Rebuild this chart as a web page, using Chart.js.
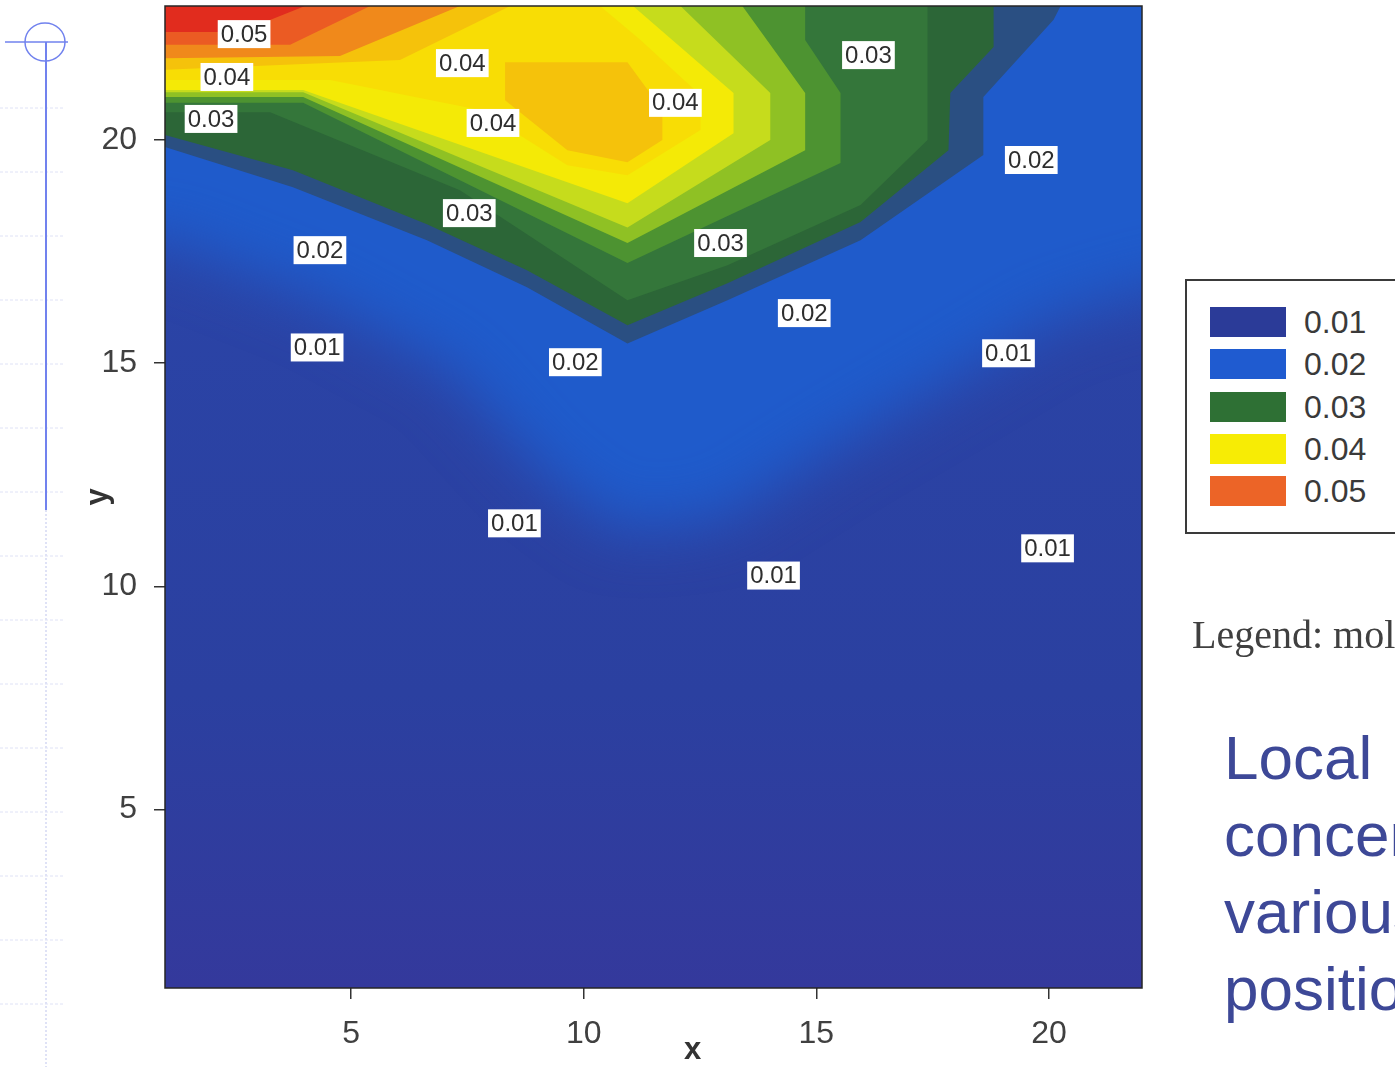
<!DOCTYPE html>
<html>
<head>
<meta charset="utf-8">
<script src="https://cdn.jsdelivr.net/npm/chart.js@4.4.1/dist/chart.umd.min.js"></script>
<style>
html, body { margin: 0; padding: 0; background: #fff; }
#page { position: relative; width: 1395px; height: 1067px; overflow: hidden; background: #fff; }
#deco { position: absolute; left: 0; top: 0; }
#plot { position: absolute; left: 0; top: 0; }
#legendBox { position: absolute; left: 1185px; top: 279px; width: 260px; height: 255px; box-sizing: border-box; border: 2px solid #3a3a3a; background: #fff; }
.item { position: absolute; left: 23px; height: 30px; }
.item span.sw { position: absolute; left: 0; top: 0; width: 76px; height: 30px; }
.item span.tx { position: absolute; left: 94px; top: -3px; font: 32px "Liberation Sans", Arial, sans-serif; color: #3a3a3a; line-height: 36px; white-space: nowrap; }
#units { position: absolute; left: 1192px; top: 615px; font: 40px "Liberation Serif", "Times New Roman", serif; line-height: 40px; color: #404040; white-space: nowrap; }
#caption { position: absolute; left: 1224px; top: 719px; font: 62px "Liberation Sans", Arial, sans-serif; line-height: 77px; color: #3d4897; white-space: nowrap; }
</style>
</head>
<body>
<div id="page">
  <svg id="deco" width="80" height="1067"></svg>
  <canvas id="plot" width="1395" height="1067"></canvas>
  <div id="legendBox"></div>
  <div id="units">Legend: mol</div>
  <div id="caption">Local<br>concentrations<br>various<br>positions</div>
</div>
<script>
// axis ticks
var xTicks = [5, 10, 15, 20];
var yTicks = [5, 10, 15, 20];

// legend of the original figure
var legendLabels = ['0.01', '0.02', '0.03', '0.04', '0.05'];
var legendColors = ['#2b3b98', '#1f5bd0', '#2e7034', '#f7ec05', '#ec6427'];

// bright blue (0.02) zone, drawn soft on top of the navy (0.01) field
var blueZone = [[-1,25],[-1,17.75],[1,17.75],[4.33,16.41],[7.13,14.84],[9.06,12.60],[10.78,11.25],[12.94,11.48],[15.30,13.04],[17.88,14.61],[20.03,15.96],[22,16.6],[24,17.0],[24,25]];

// filled contour bands, lowest first (x 1..22, y 1..23)
var teal        = [[1,23],[1,19.84],[3.75,18.94],[6.63,17.75],[8.78,16.70],[10.94,15.44],[13.09,16.41],[15.95,17.75],[18.59,19.66],[18.59,20.96],[20.10,22.69],[20.25,23]];
var darkGreen   = [[1,23],[1,20.11],[3.75,19.32],[6.63,18.11],[8.78,17.08],[10.94,15.85],[13.09,16.79],[15.95,18.16],[17.84,19.77],[17.88,21.05],[18.81,22.08],[18.81,23]];
var green       = [[1,23],[1,20.62],[3.26,20.62],[7.34,18.87],[10.94,16.41],[13.09,17.19],[15.95,18.54],[17.39,20.0],[17.39,23]];
var midGreen    = [[1,23],[1,20.83],[3.97,20.83],[10.94,17.24],[15.52,19.48],[15.52,21.05],[14.76,22.24],[14.76,23]];
var yellowGreen = [[1,23],[1,20.96],[3.97,20.96],[10.94,17.69],[14.76,19.77],[14.76,21.05],[13.41,23]];
var lightGreen  = [[1,23],[1,21.07],[3.97,21.07],[10.94,18.04],[14.01,20.0],[14.01,21.05],[12.08,23]];
var yellow      = [[1,23],[1,21.12],[3.97,21.12],[10.94,18.58],[13.22,20.15],[13.22,21.05],[11.06,23]];
var gold        = [[1,23],[1,21.34],[4.55,21.34],[7.77,20.67],[9.65,19.43],[10.94,19.21],[12.51,20.22],[12.51,21.0],[11.22,22.24],[10.35,23]];
var amber       = [[1,23],[1,21.57],[6.05,21.79],[8.42,23]];
var amberPeak   = [[8.31,21.74],[10.94,21.74],[11.69,20.67],[11.69,20.0],[10.94,19.50],[9.65,19.77],[8.31,20.89]];
var orange      = [[1,23],[1,21.83],[4.76,21.88],[7.34,23]];
var orangeRed   = [[1,23],[1,22.13],[3.69,22.13],[5.41,23]];
var red         = [[1,23],[1,22.42],[2.61,22.42],[4.01,23]];

var bands      = [teal, darkGreen, green, midGreen, yellowGreen, lightGreen, yellow, gold, amber, amberPeak, orange, orangeRed, red];
var bandColors = ['#2a4f82', '#2c6637', '#34763a', '#4d9331', '#8fc124', '#c6dc1c', '#f4ea06', '#f8dd05', '#f5c20b', '#f5c20b', '#f0891b', '#eb5b23', '#e12c1e'];

// contour labels
var labelText = ['0.05','0.04','0.03','0.04','0.04','0.04','0.03','0.02','0.03','0.03','0.02','0.02','0.01','0.02','0.01','0.01','0.01','0.01'];
var labelX    = [2.70, 2.33, 1.99, 7.39, 8.05, 11.97, 16.12, 19.62, 7.54, 12.94, 4.33, 14.74, 4.27, 9.82, 19.13, 8.51, 19.97, 14.08];
var labelY    = [22.37, 21.41, 20.47, 21.72, 20.38, 20.83, 21.90, 19.55, 18.36, 17.69, 17.53, 16.12, 15.35, 15.02, 15.22, 11.41, 10.85, 10.24];

function pts(a) {
  return a.map(function (p) { return {x: p[0], y: p[1]}; });
}

var datasets = [{
  label: 'blue',
  data: pts(blueZone),
  showLine: false,
  pointRadius: 0,
  order: 100
}];
bands.forEach(function (b, i) {
  datasets.push({
    label: 'band' + i,
    data: pts(b),
    showLine: true,
    fill: 'shape',
    backgroundColor: bandColors[i],
    borderColor: 'rgba(0,0,0,0)',
    borderWidth: 0,
    pointRadius: 0,
    tension: 0,
    order: bands.length - i
  });
});

function noPad(s) {
  s.paddingTop = 0; s.paddingBottom = 0; s.paddingLeft = 0; s.paddingRight = 0;
}

var axisFont = '"Liberation Sans", Arial, sans-serif';

var contourPlugin = {
  id: 'contourPlot',
  beforeDatasetsDraw: function (chart) {
    var ctx = chart.ctx, a = chart.chartArea;
    ctx.save();
    ctx.beginPath();
    ctx.rect(a.left, a.top, a.right - a.left, a.bottom - a.top);
    ctx.clip();
    var g = ctx.createLinearGradient(0, a.top, 0, a.bottom);
    g.addColorStop(0, '#2a46aa');
    g.addColorStop(0.7, '#2b40a0');
    g.addColorStop(1, '#34399c');
    ctx.fillStyle = g;
    ctx.fillRect(a.left, a.top, a.right - a.left, a.bottom - a.top);
    var meta = chart.getDatasetMeta(0);
    ctx.filter = 'blur(30px)';
    ctx.fillStyle = '#1f5bcb';
    ctx.beginPath();
    meta.data.forEach(function (p, i) {
      if (i === 0) ctx.moveTo(p.x, p.y); else ctx.lineTo(p.x, p.y);
    });
    ctx.closePath();
    ctx.fill();
    ctx.restore();
  },
  afterDatasetsDraw: function (chart) {
    var ctx = chart.ctx, a = chart.chartArea;
    var xs = chart.scales.x, ys = chart.scales.y;
    ctx.save();
    ctx.font = '24px ' + axisFont;
    ctx.textAlign = 'center';
    ctx.textBaseline = 'middle';
    labelText.forEach(function (t, i) {
      var px = xs.getPixelForValue(labelX[i]);
      var py = ys.getPixelForValue(labelY[i]);
      var w = ctx.measureText(t).width + 6, h = 28;
      ctx.fillStyle = '#ffffff';
      ctx.fillRect(px - w / 2, py - h / 2, w, h);
      ctx.fillStyle = '#2e2e2e';
      ctx.fillText(t, px, py + 1);
    });
    ctx.strokeStyle = '#262626';
    ctx.lineWidth = 1.5;
    ctx.strokeRect(a.left, a.top, a.right - a.left, a.bottom - a.top);
    // x axis title sits a little right of centre in the original
    ctx.font = 'bold 31px ' + axisFont;
    ctx.fillStyle = '#333';
    ctx.fillText('x', (a.left + a.right) / 2 + 39, 1050);
    ctx.restore();
  }
};

new Chart(document.getElementById('plot'), {
  type: 'scatter',
  data: { datasets: datasets },
  options: {
    responsive: false,
    animation: false,
    events: [],
    layout: { padding: { left: 80, top: 6, right: 253, bottom: 0 } },
    plugins: { legend: { display: false }, tooltip: { enabled: false } },
    scales: {
      x: {
        type: 'linear', position: 'bottom', min: 1, max: 22,
        afterBuildTicks: function (s) { s.ticks = xTicks.map(function (v) { return {value: v}; }); },
        afterFit: function (s) { s.height = 79; noPad(s); },
        grid: { drawOnChartArea: false, drawTicks: true, tickLength: 11, color: '#333', lineWidth: 1.5 },
        border: { display: false },
        ticks: { color: '#404040', padding: 16, maxRotation: 0, font: { family: axisFont, size: 32 } },
        title: { display: false }
      },
      y: {
        type: 'linear', position: 'left', min: 1, max: 23,
        afterBuildTicks: function (s) { s.ticks = yTicks.map(function (v) { return {value: v}; }); },
        afterFit: function (s) { s.width = 85; noPad(s); },
        grid: { drawOnChartArea: false, drawTicks: true, tickLength: 11, color: '#333', lineWidth: 1.5 },
        border: { display: false },
        ticks: { color: '#404040', padding: 17, font: { family: axisFont, size: 32 } },
        title: { display: true, text: 'y', color: '#333', padding: 0, font: { family: axisFont, size: 31, weight: 'bold' } }
      }
    }
  },
  plugins: [contourPlugin]
});

// legend box items
var box = document.getElementById('legendBox');
legendLabels.forEach(function (l, i) {
  var it = document.createElement('div');
  it.className = 'item';
  it.style.top = (26 + i * 42.3) + 'px';
  it.innerHTML = '<span class="sw" style="background:' + legendColors[i] + '"></span><span class="tx">' + l + '</span>';
  box.appendChild(it);
});

// slide decoration on the left
var svg = document.getElementById('deco');
var s = '';
for (var yy = 108; yy < 1067; yy += 64) {
  s += '<line x1="0" y1="' + yy + '" x2="65" y2="' + yy + '" stroke="#dfe2f6" stroke-width="1" stroke-dasharray="3,2"/>';
}
s += '<line x1="46" y1="510" x2="46" y2="1067" stroke="#dfe2f6" stroke-width="2" stroke-dasharray="2,2"/>';
s += '<line x1="46" y1="42" x2="46" y2="510" stroke="#7182ee" stroke-width="2"/>';
s += '<line x1="5" y1="42" x2="68" y2="42" stroke="#7182ee" stroke-width="1.5"/>';
s += '<ellipse cx="45" cy="42" rx="20" ry="19" fill="none" stroke="#7182ee" stroke-width="1.5"/>';
svg.innerHTML = s;
</script>
</body>
</html>
